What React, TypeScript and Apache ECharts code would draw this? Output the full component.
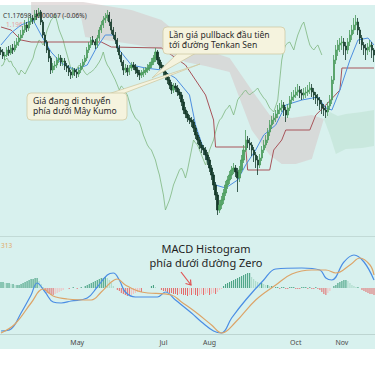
import React, { useEffect, useRef } from 'react';
import * as echarts from 'echarts';

// [open, close, low, high]
const candles: number[][] = [
  [1.1780,1.1776,1.1770,1.1786],[1.1776,1.1768,1.1762,1.1782],[1.1768,1.1770,1.1760,1.1776],[1.1770,1.1780,1.1766,1.1786],
  [1.1780,1.1774,1.1768,1.1788],[1.1774,1.1784,1.1770,1.1790],[1.1784,1.1780,1.1772,1.1792],[1.1780,1.1790,1.1776,1.1798],
  [1.1790,1.1796,1.1784,1.1804],[1.1796,1.1804,1.1788,1.1812],[1.1804,1.1810,1.1798,1.1820],[1.1810,1.1820,1.1804,1.1828],
  [1.1820,1.1830,1.1814,1.1840],[1.1830,1.1824,1.1816,1.1836],[1.1824,1.1836,1.1818,1.1844],[1.1836,1.1844,1.1830,1.1852],
  [1.1844,1.1840,1.1832,1.1850],[1.1840,1.1852,1.1834,1.1860],[1.1852,1.1848,1.1840,1.1860],[1.1848,1.1856,1.1844,1.1864],
  [1.1856,1.1836,1.1830,1.1860],[1.1836,1.1810,1.1804,1.1840],[1.1810,1.1796,1.1788,1.1816],[1.1796,1.1780,1.1774,1.1800],
  [1.1780,1.1764,1.1756,1.1784],[1.1764,1.1740,1.1732,1.1768],[1.1740,1.1748,1.1734,1.1754],[1.1748,1.1750,1.1740,1.1758],
  [1.1750,1.1760,1.1744,1.1766],[1.1760,1.1764,1.1754,1.1772],[1.1764,1.1756,1.1748,1.1770],[1.1756,1.1758,1.1748,1.1764],
  [1.1758,1.1748,1.1740,1.1764],[1.1748,1.1744,1.1736,1.1754],[1.1744,1.1736,1.1728,1.1750],[1.1736,1.1730,1.1722,1.1740],
  [1.1730,1.1740,1.1724,1.1746],[1.1740,1.1736,1.1728,1.1744],[1.1736,1.1732,1.1724,1.1742],[1.1732,1.1740,1.1726,1.1746],
  [1.1740,1.1748,1.1734,1.1754],[1.1748,1.1756,1.1742,1.1762],[1.1756,1.1764,1.1750,1.1770],[1.1764,1.1780,1.1758,1.1786],
  [1.1780,1.1790,1.1774,1.1796],[1.1790,1.1800,1.1784,1.1806],[1.1800,1.1796,1.1790,1.1808],[1.1796,1.1790,1.1782,1.1802],
  [1.1790,1.1804,1.1784,1.1810],[1.1804,1.1820,1.1798,1.1826],[1.1820,1.1830,1.1814,1.1838],[1.1830,1.1840,1.1824,1.1848],
  [1.1840,1.1844,1.1834,1.1854],[1.1844,1.1850,1.1838,1.1860],[1.1850,1.1836,1.1828,1.1856],[1.1836,1.1820,1.1812,1.1842],
  [1.1820,1.1810,1.1802,1.1826],[1.1810,1.1800,1.1792,1.1816],[1.1800,1.1784,1.1776,1.1804],[1.1784,1.1770,1.1762,1.1790],
  [1.1770,1.1756,1.1748,1.1776],[1.1756,1.1740,1.1730,1.1760],[1.1740,1.1744,1.1734,1.1752],[1.1744,1.1736,1.1728,1.1750],
  [1.1736,1.1744,1.1730,1.1750],[1.1744,1.1750,1.1738,1.1756],[1.1750,1.1746,1.1740,1.1756],[1.1746,1.1740,1.1732,1.1752],
  [1.1740,1.1734,1.1726,1.1746],[1.1734,1.1730,1.1720,1.1740],[1.1730,1.1734,1.1724,1.1740],[1.1734,1.1736,1.1726,1.1744],
  [1.1736,1.1740,1.1730,1.1746],[1.1740,1.1744,1.1734,1.1752],[1.1744,1.1750,1.1738,1.1756],[1.1750,1.1756,1.1744,1.1764],
  [1.1756,1.1764,1.1750,1.1770],[1.1764,1.1776,1.1756,1.1784],[1.1776,1.1760,1.1752,1.1780],[1.1760,1.1750,1.1742,1.1766],
  [1.1750,1.1744,1.1736,1.1756],[1.1744,1.1736,1.1728,1.1750],[1.1736,1.1728,1.1720,1.1742],[1.1728,1.1720,1.1712,1.1734],
  [1.1720,1.1710,1.1702,1.1726],[1.1710,1.1700,1.1692,1.1716],[1.1700,1.1708,1.1694,1.1714],[1.1708,1.1704,1.1696,1.1714],
  [1.1704,1.1696,1.1688,1.1710],[1.1696,1.1690,1.1682,1.1702],[1.1690,1.1676,1.1668,1.1696],[1.1676,1.1660,1.1652,1.1682],
  [1.1660,1.1652,1.1644,1.1666],[1.1652,1.1644,1.1636,1.1658],[1.1644,1.1640,1.1632,1.1650],[1.1640,1.1636,1.1626,1.1646],
  [1.1636,1.1624,1.1616,1.1642],[1.1624,1.1610,1.1602,1.1630],[1.1610,1.1600,1.1592,1.1616],[1.1600,1.1590,1.1582,1.1606],
  [1.1590,1.1584,1.1574,1.1596],[1.1584,1.1580,1.1570,1.1590],[1.1580,1.1570,1.1560,1.1586],[1.1570,1.1560,1.1550,1.1576],
  [1.1560,1.1544,1.1536,1.1566],[1.1544,1.1530,1.1520,1.1550],[1.1530,1.1510,1.1500,1.1536],[1.1510,1.1490,1.1480,1.1516],
  [1.1490,1.1460,1.1450,1.1496],[1.1460,1.1470,1.1454,1.1480],[1.1470,1.1480,1.1462,1.1488],[1.1480,1.1494,1.1472,1.1502],
  [1.1494,1.1510,1.1488,1.1518],[1.1510,1.1520,1.1502,1.1528],[1.1520,1.1530,1.1512,1.1538],[1.1530,1.1540,1.1522,1.1548],
  [1.1540,1.1544,1.1532,1.1554],[1.1544,1.1536,1.1526,1.1550],[1.1536,1.1524,1.1496,1.1544],[1.1524,1.1540,1.1516,1.1548],
  [1.1540,1.1560,1.1534,1.1570],[1.1560,1.1580,1.1554,1.1590],[1.1580,1.1600,1.1576,1.1620],[1.1600,1.1594,1.1584,1.1608],
  [1.1594,1.1590,1.1580,1.1604],[1.1590,1.1580,1.1568,1.1596],[1.1580,1.1570,1.1556,1.1586],[1.1570,1.1560,1.1544,1.1576],
  [1.1560,1.1550,1.1530,1.1568],[1.1550,1.1564,1.1544,1.1572],[1.1564,1.1580,1.1558,1.1588],[1.1580,1.1590,1.1574,1.1600],
  [1.1590,1.1600,1.1584,1.1610],[1.1600,1.1616,1.1594,1.1624],[1.1616,1.1630,1.1608,1.1640],[1.1630,1.1640,1.1622,1.1648],
  [1.1640,1.1644,1.1632,1.1654],[1.1644,1.1652,1.1636,1.1660],[1.1652,1.1660,1.1644,1.1670],[1.1660,1.1664,1.1652,1.1674],
  [1.1664,1.1670,1.1656,1.1680],[1.1670,1.1660,1.1648,1.1676],[1.1660,1.1650,1.1636,1.1666],[1.1650,1.1664,1.1644,1.1672],
  [1.1664,1.1680,1.1658,1.1688],[1.1680,1.1686,1.1672,1.1696],[1.1686,1.1690,1.1678,1.1700],[1.1690,1.1696,1.1684,1.1706],
  [1.1696,1.1700,1.1688,1.1712],[1.1700,1.1694,1.1684,1.1708],[1.1694,1.1690,1.1680,1.1702],[1.1690,1.1694,1.1682,1.1704],
  [1.1694,1.1696,1.1684,1.1706],[1.1696,1.1700,1.1688,1.1710],[1.1700,1.1704,1.1692,1.1716],[1.1704,1.1696,1.1686,1.1712],
  [1.1696,1.1690,1.1680,1.1704],[1.1690,1.1684,1.1672,1.1696],[1.1684,1.1680,1.1668,1.1692],[1.1680,1.1672,1.1660,1.1686],
  [1.1672,1.1664,1.1652,1.1680],[1.1664,1.1660,1.1648,1.1672],[1.1660,1.1656,1.1644,1.1668],[1.1656,1.1668,1.1648,1.1676],
  [1.1668,1.1680,1.1660,1.1690],[1.1680,1.1720,1.1672,1.1728],[1.1720,1.1760,1.1712,1.1770],[1.1760,1.1780,1.1752,1.1790],
  [1.1780,1.1790,1.1768,1.1800],[1.1790,1.1794,1.1776,1.1804],[1.1794,1.1796,1.1780,1.1808],[1.1796,1.1788,1.1770,1.1804],
  [1.1788,1.1780,1.1760,1.1796],[1.1780,1.1796,1.1772,1.1804],[1.1796,1.1810,1.1788,1.1820],[1.1810,1.1820,1.1800,1.1830],
  [1.1820,1.1830,1.1812,1.1844],[1.1830,1.1836,1.1820,1.1850],[1.1836,1.1820,1.1810,1.1844],[1.1820,1.1804,1.1792,1.1826],
  [1.1804,1.1790,1.1780,1.1810],[1.1790,1.1784,1.1770,1.1796],[1.1784,1.1780,1.1760,1.1792],[1.1780,1.1786,1.1770,1.1794],
  [1.1786,1.1790,1.1776,1.1800],[1.1790,1.1780,1.1764,1.1796],[1.1780,1.1770,1.1756,1.1784],
];

// Ichimoku lines: [bar index, price]
const tenkan: number[][] = [
  [0,1.1790],[5,1.1814],[10,1.1830],[16,1.1840],[20,1.1810],[25,1.1776],[30,1.1754],[37,1.1740],[43,1.1750],
  [47,1.1780],[52,1.1810],[56,1.1810],[59,1.1780],[65,1.1750],[72,1.1744],[80,1.1740],[87,1.1724],[94,1.1690],
  [97,1.1630],[102,1.1570],[107,1.1510],[112,1.1504],[118,1.1520],[122,1.1550],[127,1.1580],[131,1.1610],
  [137,1.1630],[142,1.1670],[150,1.1680],[158,1.1686],[162,1.1664],[165,1.1660],[169,1.1700],[174,1.1760],
  [178,1.1800],[183,1.1804],[186,1.1790],
];
const kijun: number[][] = [
  [0,1.1826],[5,1.1820],[10,1.1800],[15,1.1796],[50,1.1796],[55,1.1786],[80,1.1784],[85,1.1770],[92,1.1750],
  [97,1.1720],[102,1.1690],[106,1.1640],[107,1.1586],[122,1.1586],[123,1.1540],[134,1.1540],[136,1.1580],
  [140,1.1600],[142,1.1620],[154,1.1620],[157,1.1650],[162,1.1670],[169,1.1700],[170,1.1744],[186,1.1744],
];
const chikouShift = 26;
const bearCloudTop: number[][] = [
  [15,1.1876],[41,1.1876],[50,1.1870],[65,1.1860],[80,1.1840],[92,1.1800],[102,1.1780],[114,1.1764],
  [125,1.1700],[134,1.1650],[145,1.1644],[155,1.1650],[161,1.1642],
];
const bearCloudBottom: number[][] = [
  [15,1.1846],[40,1.1844],[42,1.1806],[65,1.1792],[80,1.1782],[92,1.1756],[102,1.1748],
  [114,1.1736],[125,1.1620],[134,1.1570],[140,1.1552],[147,1.1552],[155,1.1562],[161,1.1642],
];
const bullCloudTop: number[][] = [[161,1.1642],[164,1.1656],[168,1.1648],[172,1.1652],[180,1.1656],[186,1.1660]];
const bullCloudBottom: number[][] = [[161,1.1642],[164,1.1610],[167,1.1572],[172,1.1582],[180,1.1584],[186,1.1588]];

// MACD
const macdLine: number[][] = [
  [0,-0.0043],[5,-0.0041],[10,-0.0025],[15,-0.0007],[18,0.0005],[22,-0.0004],[26,-0.0014],[30,-0.0015],
  [35,-0.0013],[43,-0.0010],[48,0.0001],[53,0.0013],[56,0.0015],[59,0.0008],[62,-0.0004],[67,-0.0009],
  [78,-0.0009],[82,-0.0004],[87,-0.0012],[95,-0.0025],[100,-0.0034],[106,-0.0043],[110,-0.0045],[115,-0.0030],
  [122,-0.0012],[131,0.0008],[137,0.0019],[150,0.0020],[159,0.0018],[162,0.0010],[165,0.0008],[171,0.0026],
  [176,0.0033],[181,0.0026],[186,0.0008],
];
const signalLine: number[][] = [
  [0,-0.0045],[7,-0.0036],[15,-0.0015],[21,-0.0001],[26,-0.0008],[33,-0.0011],[45,-0.0012],[50,-0.0004],
  [55,0.0006],[58,0.0009],[62,0.0003],[70,-0.0004],[85,-0.0007],[90,-0.0014],[97,-0.0024],[105,-0.0037],
  [110,-0.0045],[117,-0.0034],[127,-0.0012],[137,0.0003],[145,0.0014],[155,0.0018],[162,0.0018],[167,0.0015],
  [174,0.0023],[179,0.0030],[184,0.0023],[186,0.0013],
];
const macdHist: number[] = [
  0.0006,0.0006,0.0005,0.0005,0.0005,0.0004,0.0004,0.0003,0.0003,0.0003,
  0.0004,0.0005,0.0006,0.0007,0.0008,0.0009,0.0009,0.0010,0.0010,
  0.0007,0.0004,0.0001,
  -0.0003,-0.0005,-0.0006,-0.0007,-0.0007,-0.0006,-0.0005,-0.0004,-0.0003,-0.0002,
  0,0,-0.0001,0,0.0001,0,-0.0001,0,0.0001,0,
  0.0002,0.0003,0.0004,0.0005,0.0006,0.0007,0.0008,0.0009,0.0010,0.0010,0.0011,0.0010,
  0.0008,0.0005,0.0002,0,
  -0.0002,-0.0003,-0.0005,-0.0006,-0.0007,-0.0008,-0.0008,-0.0007,-0.0006,-0.0005,-0.0004,-0.0003,
  -0.0004,0,0,0,0,0.0002,0.0003,0.0001,0,0,
  -0.0002,-0.0003,-0.0003,-0.0004,-0.0005,-0.0005,-0.0006,-0.0006,-0.0007,-0.0006,-0.0006,-0.0007,-0.0007,-0.0008,-0.0007,
  -0.0007,-0.0006,-0.0007,-0.0008,-0.0007,-0.0006,-0.0007,-0.0006,-0.0005,-0.0007,-0.0006,-0.0005,-0.0006,-0.0004,
  -0.0002,-0.0001,
  0.0002,0.0004,0.0005,0.0006,0.0007,0.0008,0.0009,0.0010,0.0011,0.0012,0.0013,0.0014,0.0015,0.0015,
  0.0011,0.0009,0.0007,0.0006,0.0005,0.0005,0.0004,0.0003,0.0003,0.0002,0.0002,0,
  0.0001,0.0001,-0.0001,0.0001,0.0001,-0.0001,-0.0001,0.0001,0.0001,0.0001,-0.0001,-0.0001,-0.0001,0.0001,0.0001,
  0.0001,-0.0001,0.0001,-0.0001,-0.0001,0.0001,-0.0001,
  -0.0002,-0.0004,-0.0006,-0.0007,-0.0005,-0.0003,0,
  0.0002,0.0003,0.0005,0.0006,0.0007,0.0008,0.0008,0.0007,0.0005,0.0003,0.0002,0.0001,0.0001,0,
  -0.0002,-0.0003,-0.0004,-0.0005,-0.0006,-0.0006,-0.0007,
];

const monthTickDates = ['2019-05-01', '2019-07-01', '2019-08-01', '2019-10-01', '2019-11-01'];
const monthTickLabels = ['May', 'Jul', 'Aug', 'Oct', 'Nov'];

const legendText = 'C1.17698  -0.00067 (-0.06%)';
const kijunLegend = '1.19617';
const macdLegend = '313';
const noteTenkan = ['Lần giá pullback đầu tiên', 'tới đường Tenkan Sen'];
const noteKumo = ['Giá đang di chuyển', 'phía dưới Mây Kumo'];
const noteMacd = ['MACD Histogram', 'phía dưới đường Zero'];

function tradingDates(start: string, n: number): string[] {
  const out: string[] = [];
  const d = new Date(start + 'T00:00:00Z');
  while (out.length < n) {
    const wd = d.getUTCDay();
    if (wd !== 0 && wd !== 6) out.push(d.toISOString().slice(0, 10));
    d.setUTCDate(d.getUTCDate() + 1);
  }
  return out;
}

const FONT = 'Noto Sans';

function cloud(upper: number[][], lower: number[][], fill: string) {
  return {
    type: 'custom',
    xAxisIndex: 0,
    yAxisIndex: 0,
    silent: true,
    z: 1,
    data: [upper[0]],
    renderItem: (_p: any, api: any) => {
      const pts = upper.map((p) => api.coord(p)).concat(lower.slice().reverse().map((p) => api.coord(p)));
      return { type: 'polygon', shape: { points: pts }, style: { fill } };
    },
  };
}

function callout(x: number, y: number, w: number, h: number, tail: number[][], lines: string[]) {
  return [
    { type: 'polygon', z: 50, shape: { points: tail }, style: { fill: '#f5f3de', stroke: '#cfcaa4', lineWidth: 0.8 } },
    { type: 'rect', z: 51, shape: { x, y, width: w, height: h, r: 4 }, style: { fill: '#f5f3de', stroke: '#cfcaa4', lineWidth: 0.8 } },
    ...lines.map((t, k) => ({
      type: 'text', z: 52, x: x + 6, y: y + 3 + k * 10.5,
      style: { text: t, fill: '#2a2a2a', font: `8.6px "${FONT}"`, verticalAlign: 'top' },
    })),
  ];
}

export default function App() {
  const ref = useRef<HTMLDivElement>(null);
  useEffect(() => {
    document.body.style.margin = '0';
    const chart = echarts.init(ref.current!, null, { renderer: 'svg' });
    const dates = tradingDates('2019-03-08', candles.length);
    const closes = candles.map((c) => c[1]);
    const chikou = closes.slice(chikouShift).map((c, k) => [k, c]);
    const histData = macdHist.map((v, i) => {
      const prev = i > 0 ? macdHist[i - 1] : 0;
      let color: string;
      if (v >= 0) color = v >= prev ? '#3a9a78' : '#a6d8c6';
      else color = v <= prev ? '#e46a6a' : '#f3bcbc';
      return { value: v, itemStyle: { color } };
    });

    const option: any = {
      animation: false,
      backgroundColor: 'transparent',
      textStyle: { fontFamily: FONT },
      grid: [
        { left: 0, right: 0, top: 5, height: 231 },
        { left: 0, right: 0, top: 237, height: 97 },
      ],
      xAxis: [
        {
          type: 'category', gridIndex: 0, data: dates, boundaryGap: true,
          axisLine: { show: false }, axisTick: { show: false }, axisLabel: { show: false }, splitLine: { show: false },
        },
        {
          type: 'category', gridIndex: 1, data: dates, boundaryGap: true,
          axisLine: { show: true, onZero: false, lineStyle: { color: '#bdd5d1', width: 1 } },
          axisTick: { show: false }, splitLine: { show: false },
          axisLabel: {
            interval: (_i: number, v: string) => monthTickDates.includes(v),
            formatter: (v: string) => { const k = monthTickDates.indexOf(v); return k >= 0 ? monthTickLabels[k] : ''; },
            fontSize: 7, color: '#4a4a4a', margin: 5, fontFamily: FONT,
          },
        },
      ],
      yAxis: [
        { type: 'value', gridIndex: 0, min: 1.1408, max: 1.187, show: false, splitLine: { show: false } },
        { type: 'value', gridIndex: 1, min: -0.0046, max: 0.0051, show: false, splitLine: { show: false } },
      ],
      series: [
        cloud(bearCloudTop, bearCloudBottom, 'rgba(214,204,204,0.62)'),
        cloud(bullCloudTop, bullCloudBottom, 'rgba(180,220,198,0.4)'),
        {
          type: 'line', xAxisIndex: 0, yAxisIndex: 0, data: chikou, symbol: 'none', z: 2,
          lineStyle: { color: '#7db67f', width: 0.8 },
        },
        {
          type: 'line', xAxisIndex: 0, yAxisIndex: 0, data: kijun, symbol: 'none', z: 2,
          lineStyle: { color: '#a8545a', width: 1 },
        },
        {
          type: 'line', xAxisIndex: 0, yAxisIndex: 0, data: tenkan, symbol: 'none', z: 2,
          lineStyle: { color: '#4d8fe0', width: 1 },
        },
        {
          type: 'candlestick', xAxisIndex: 0, yAxisIndex: 0, data: candles, barWidth: 1.8, z: 3,
          itemStyle: { color: '#55a868', color0: '#143a2a', borderColor: '#4a9a5c', borderColor0: '#143a2a', borderWidth: 0.8 },
        },
        {
          type: 'bar', xAxisIndex: 1, yAxisIndex: 1, data: histData, barWidth: 1,
        },
        {
          type: 'line', xAxisIndex: 1, yAxisIndex: 1, data: macdLine, symbol: 'none', smooth: 0.4,
          lineStyle: { color: '#4a8de4', width: 1.2 },
        },
        {
          type: 'line', xAxisIndex: 1, yAxisIndex: 1, data: signalLine, symbol: 'none', smooth: 0.4,
          lineStyle: { color: '#dca468', width: 1.2 },
        },
      ],
      graphic: [
        { type: 'line', z: 40, shape: { x1: 0, y1: 236.5, x2: 375, y2: 236.5 }, style: { stroke: '#c2dad6', lineWidth: 1 } },
        { type: 'text', z: 40, x: 3, y: 15, style: { text: legendText, fill: '#333', font: `6.5px "${FONT}"`, verticalAlign: 'middle' } },
        { type: 'text', z: 0, x: 6, y: 24, style: { text: kijunLegend, fill: '#e7a3a3', font: `6.5px "${FONT}"`, verticalAlign: 'middle' } },
        { type: 'text', z: 40, x: 1, y: 245, style: { text: macdLegend, fill: '#e2a868', font: `6.5px "${FONT}"`, verticalAlign: 'middle' } },
        ...callout(163, 27, 122, 27, [[178, 53], [196, 53], [152, 78]], noteTenkan),
        ...callout(27, 93, 100, 27, [[108, 94], [122, 94], [200, 64]], noteKumo),
        ...noteMacd.map((t, k) => ({
          type: 'text', z: 40, x: 206, y: 243 + k * 14,
          style: { text: t, fill: '#1e1e1e', font: `11px "${FONT}"`, align: 'center', verticalAlign: 'top' },
        })),
        { type: 'line', z: 40, shape: { x1: 181, y1: 272, x2: 191, y2: 285 }, style: { stroke: '#e05252', lineWidth: 1.2 } },
        { type: 'polyline', z: 40, shape: { points: [[185.5, 283.5], [191, 285], [190.5, 279.5]] }, style: { stroke: '#e05252', lineWidth: 1.2, fill: null } },
      ],
    };
    chart.setOption(option);
    return () => chart.dispose();
  }, []);

  return (
    <div style={{ position: 'relative', width: 375, height: 366, background: '#ffffff' }}>
      <div style={{ position: 'absolute', left: 0, top: 5, width: 375, height: 344, background: '#d8f1ee' }} />
      <div ref={ref} style={{ position: 'absolute', left: 0, top: 0, width: 375, height: 366 }} />
    </div>
  );
}
